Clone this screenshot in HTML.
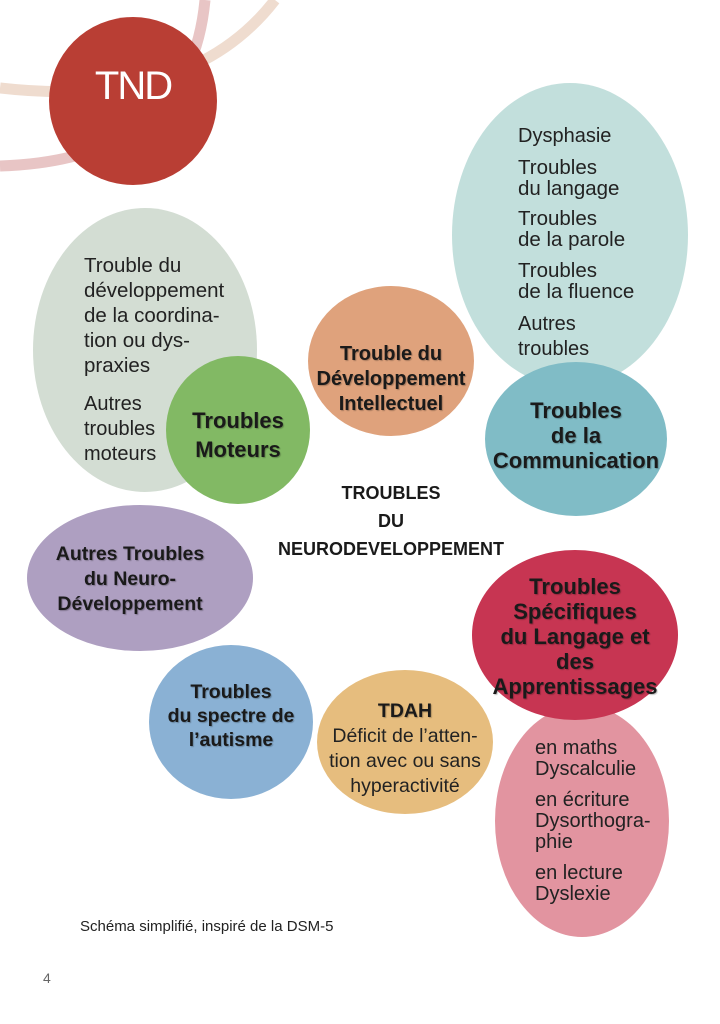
<!DOCTYPE html>
<html><head><meta charset="utf-8"><style>
body{margin:0;width:720px;height:1024px;background:#fff;position:relative;overflow:hidden;font-family:"Liberation Sans",sans-serif}
.e{position:absolute;border-radius:50%}
.t{position:absolute;color:#222;font-size:19px;line-height:21px}
.b{position:absolute;font-weight:bold;color:#1a1a1a;text-align:center;text-shadow:1px 1px 1px rgba(0,0,0,.25)}
</style></head><body>
<svg width="720" height="1024" style="position:absolute;left:0;top:0">
<path d="M0,88 Q190,110 275,0" stroke="#efdccf" stroke-width="11" fill="none"/>
<path d="M0,166 Q190,160 205,0" stroke="#e8c5c5" stroke-width="11" fill="none"/>
</svg>
<div class="e" style="left:49px;top:17px;width:168px;height:168px;background:#b93e34"></div>
<div style="position:absolute;left:49px;top:64px;width:168px;text-align:center;color:#fff;font-size:40px;letter-spacing:-2px">TND</div>

<div class="e" style="left:33px;top:208px;width:224px;height:284px;background:#d3ddd3"></div>
<div class="e" style="left:452px;top:83px;width:236px;height:304px;background:#c2dfdc"></div>
<div class="e" style="left:308px;top:286px;width:166px;height:150px;background:#dfa27c"></div>
<div class="e" style="left:166px;top:356px;width:144px;height:148px;background:#82b964"></div>
<div class="e" style="left:485px;top:362px;width:182px;height:154px;background:#80bcc6"></div>
<div class="e" style="left:27px;top:505px;width:226px;height:146px;background:#ae9fc1"></div>
<div class="e" style="left:495px;top:705px;width:174px;height:232px;background:#e294a0"></div>
<div class="e" style="left:472px;top:550px;width:206px;height:170px;background:#c73552"></div>
<div class="e" style="left:149px;top:645px;width:164px;height:154px;background:#8ab1d4"></div>
<div class="e" style="left:317px;top:670px;width:176px;height:144px;background:#e6bd7e"></div>

<div class="t" style="left:84px;top:253px;font-size:20.5px;line-height:25px">Trouble du<br>développement<br>de la coordina-<br>tion ou dys-<br>praxies</div>
<div class="t" style="left:84px;top:392px;line-height:25px;font-size:20px">Autres<br>troubles<br>moteurs</div>
<div class="t" style="left:518px;top:126px;font-size:20px">Dysphasie</div>
<div class="t" style="left:518px;top:157px;font-size:20.5px">Troubles<br>du langage</div>
<div class="t" style="left:518px;top:208px;font-size:20.5px">Troubles<br>de la parole</div>
<div class="t" style="left:518px;top:260px;font-size:20.5px">Troubles<br>de la fluence</div>
<div class="t" style="left:518px;top:312px;line-height:25px;font-size:20px">Autres<br>troubles</div>

<div class="b" style="left:308px;top:342px;width:166px;font-size:20px;line-height:25px">Trouble du<br>Développement<br>Intellectuel</div>
<div class="b" style="left:166px;top:406px;width:144px;font-size:22px;line-height:29px">Troubles<br>Moteurs</div>
<div class="b" style="left:485px;top:398px;width:182px;font-size:22px;line-height:25px">Troubles<br>de la<br>Communication</div>
<div class="b" style="left:250px;top:479px;width:282px;font-size:18px;line-height:28px;text-shadow:none">TROUBLES<br>DU<br>NEURODEVELOPPEMENT</div>
<div class="b" style="left:27px;top:542px;width:206px;font-size:19.5px;line-height:25px">Autres Troubles<br>du Neuro-<br>Développement</div>
<div class="b" style="left:472px;top:574px;width:206px;font-size:22px;line-height:25px">Troubles<br>Spécifiques<br>du Langage et<br>des<br>Apprentissages</div>
<div class="t" style="left:535px;top:738px;font-size:20px">en maths<br>Dyscalculie</div>
<div class="t" style="left:535px;top:790px;font-size:20px">en écriture<br>Dysorthogra-<br>phie</div>
<div class="t" style="left:535px;top:863px;font-size:20px">en lecture<br>Dyslexie</div>
<div class="b" style="left:149px;top:680px;width:164px;font-size:19.5px;line-height:24px">Troubles<br>du spectre de<br>l’autisme</div>
<div class="b" style="left:317px;top:700px;width:176px;font-size:19.5px;line-height:22px">TDAH</div>
<div class="t" style="left:317px;top:724px;width:176px;text-align:center;line-height:25px;font-size:19.5px">Déficit de l’atten-<br>tion avec ou sans<br>hyperactivité</div>
<div style="position:absolute;left:80px;top:918px;font-size:15px;color:#222">Schéma simplifié, inspiré de la DSM-5</div>
<div style="position:absolute;left:43px;top:970px;font-size:14px;color:#666">4</div>
</body></html>
